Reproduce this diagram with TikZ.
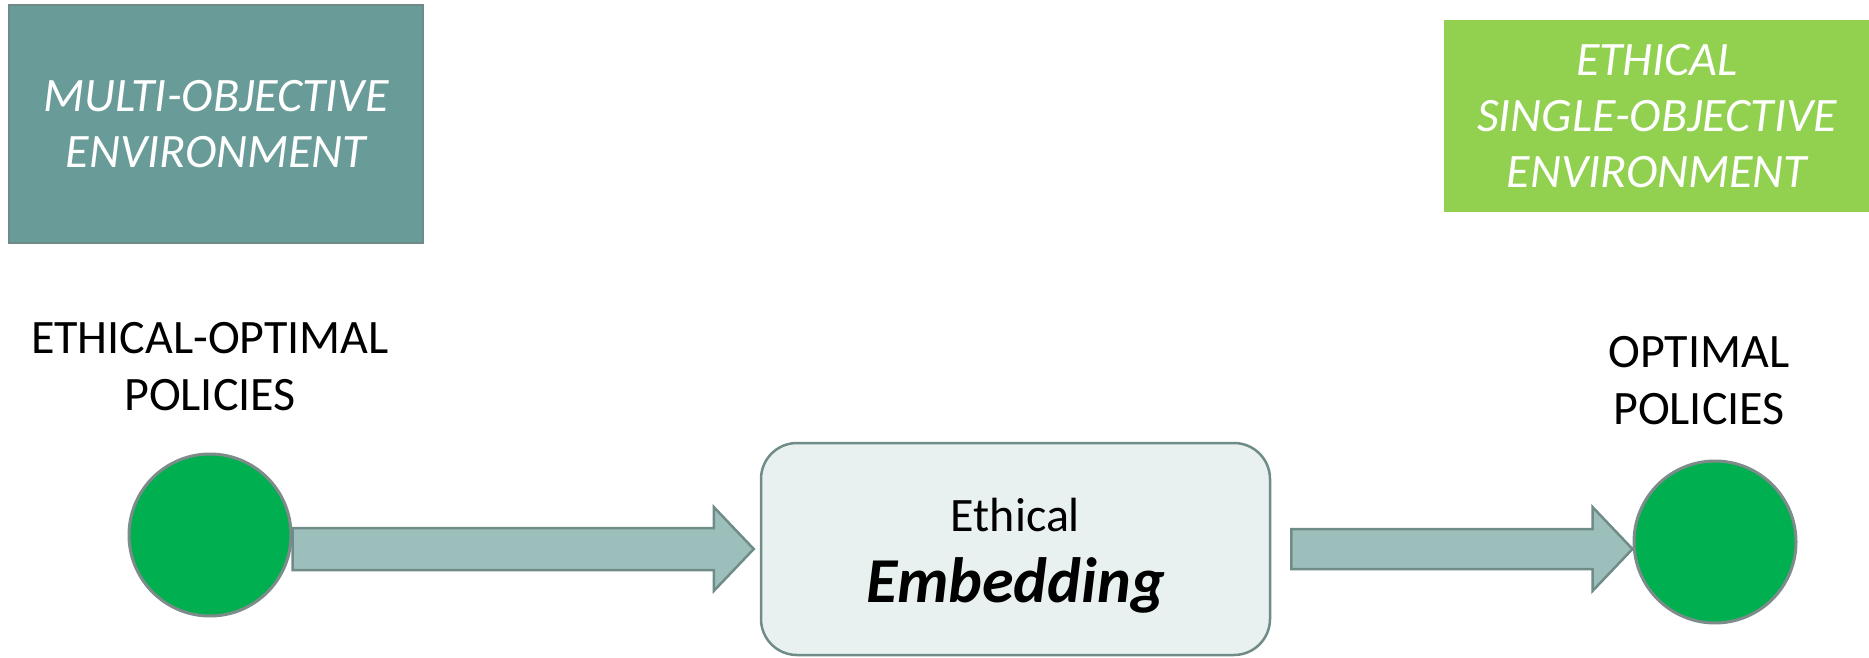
\documentclass[tikz,border=0pt]{standalone}
\usepackage{fontspec}
\setmainfont{Carlito}
\definecolor{envA}{HTML}{699C98}
\definecolor{envAline}{HTML}{6E8B88}
\definecolor{envB}{HTML}{92D050}
\definecolor{pol}{HTML}{00B050}
\definecolor{polline}{HTML}{7D8B8A}
\definecolor{arrfill}{HTML}{9DBFBC}
\definecolor{arrline}{HTML}{6F8C88}
\definecolor{embfill}{HTML}{E8F1F0}
\tikzset{
  envbox/.style={rectangle, inner sep=0pt, text=white, align=center,
    font=\fontsize{48}{56}\selectfont\itshape},
  policy/.style={circle, fill=pol, draw=polline, line width=3pt, minimum size=162pt, inner sep=0pt},
  plabel/.style={align=center, anchor=base, font=\fontsize{48}{57}\selectfont},
  embbox/.style={rectangle, rounded corners=36pt, fill=embfill, draw=arrline, line width=2.5pt,
    minimum width=509pt, minimum height=212pt, align=center, inner sep=0pt,
    font=\fontsize{48}{71}\selectfont},
  blockarrow/.style={fill=arrfill, draw=arrline, line width=2.5pt, line join=miter}
}
\begin{document}
\begin{tikzpicture}[x=1pt,y=-1pt]
\useasboundingbox (0,0) rectangle (1869,658);
\node[envbox, fill=envA, draw=envAline, line width=2pt, minimum width=414pt, minimum height=238pt] (moe) at (216,124) {MULTI-OBJECTIVE\\ENVIRONMENT};
\node[envbox, fill=envB, minimum width=426pt, minimum height=192pt] (soe) at (1657,116) {ETHICAL\\SINGLE-OBJECTIVE\\ENVIRONMENT};
\node[policy] (c1) at (210,535) {};
\node[policy] (c2) at (1715,542) {};
\node[plabel] (l1) at (210,410) {ETHICAL-OPTIMAL\\POLICIES};
\node[plabel] (l2) at (1699,424) {OPTIMAL\\POLICIES};
\node[embbox] (emb) at (1015.5,549) {\raisebox{-7pt}[\height][\depth]{Ethical}\\{\fontsize{64}{71}\selectfont\bfseries\itshape \raisebox{-7pt}[\height][\depth]{Embedding}}};
\coordinate (a1s) at (c1.east |- emb.west);
\coordinate (a1e) at ([xshift=-6pt]emb.west);
\coordinate (a2s) at ([xshift=20pt]emb.east);
\coordinate (a2e) at (c2.west |- emb.east);
\draw[blockarrow] ([yshift=21pt]a1s) -- ([xshift=-40pt,yshift=21pt]a1e) -- ([xshift=-40pt,yshift=42pt]a1e) -- (a1e)
  -- ([xshift=-40pt,yshift=-42pt]a1e) -- ([xshift=-40pt,yshift=-21pt]a1e) -- ([yshift=-21pt]a1s) -- cycle;
\draw[blockarrow] ([yshift=20pt]a2s) -- ([xshift=-40pt,yshift=20pt]a2e) -- ([xshift=-40pt,yshift=42pt]a2e) -- (a2e)
  -- ([xshift=-40pt,yshift=-42pt]a2e) -- ([xshift=-40pt,yshift=-20pt]a2e) -- ([yshift=-20pt]a2s) -- cycle;
\end{tikzpicture}
\end{document}
